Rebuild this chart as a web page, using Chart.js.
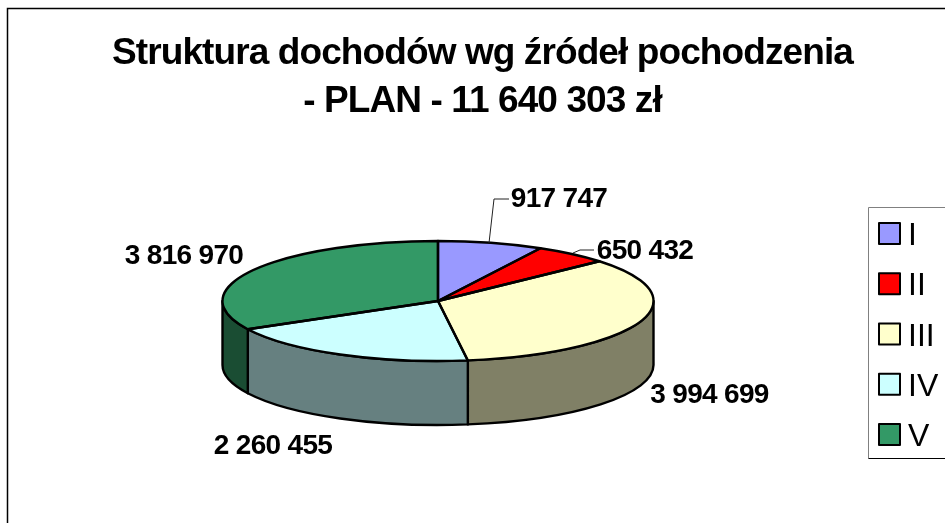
<!DOCTYPE html>
<html lang="pl">
<head>
<meta charset="utf-8">
<title>Struktura dochodów</title>
<script src="https://cdn.jsdelivr.net/npm/chart.js@4"></script>
<style>
    html, body { margin: 0; padding: 0; background: #fff; overflow: hidden; }
    canvas { display: block; }
</style>
</head>
<body>
<canvas id="pieChart" width="965" height="540"></canvas>
<script>
const categories = ["I", "II", "III", "IV", "V"];
const values = [917747, 650432, 3994699, 2260455, 3816970];
const valueLabels = ["917 747", "650 432", "3 994 699", "2 260 455", "3 816 970"];
const colors = ["#9999FF", "#FF0000", "#FFFFCC", "#CCFFFF", "#339966"];
const wallColors = ["#4D4D80", "#800000", "#808066", "#668080", "#1A4D33"];
const titleLines = ["Struktura dochodów wg źródeł pochodzenia", "- PLAN - 11 640 303 zł"];

// where the flattened pie and its labels sit on the page
const pie = { cx: 438, cy: 301, rx: 215.5, ry: 60, depth: 64 };
const labelSpots = [[559, 199], [645, 251], [709.5, 395], [273, 446], [184, 256]];
const leaders = [
    [[489, 243], [494, 199], [509, 199]],
    [[573, 253], [580, 250], [594, 250]]
];
const legendBox = { x: 868.5, y: 207.5, w: 120, h: 251, first: 222, step: 50.25 };

function arcs(chart) {
    return chart.getDatasetMeta(0).data.map(a =>
        a.getProps(["x", "y", "startAngle", "endAngle", "outerRadius"], true));
}

const pie3d = {
    id: "pie3d",
    beforeDraw(chart) {
        const ctx = chart.ctx;
        ctx.save();
        ctx.strokeStyle = "#000";
        ctx.lineWidth = 1.5;
        ctx.strokeRect(7.5, 8.5, 1100, 700);
        ctx.restore();
        // the title in the picture is set tight
        ctx.letterSpacing = "-0.9px";
    },
    beforeDatasetsDraw(chart) {
        const ctx = chart.ctx;
        const list = arcs(chart);
        ctx.letterSpacing = "0px";

        // side wall, only the front half of the rim shows
        ctx.save();
        ctx.strokeStyle = "#000";
        ctx.lineWidth = 2.4;
        ctx.lineJoin = "round";
        list.forEach((a, i) => {
            const from = Math.max(a.startAngle, 0);
            const to = Math.min(a.endAngle, Math.PI);
            if (to <= from) return;
            ctx.beginPath();
            ctx.ellipse(pie.cx, pie.cy, pie.rx, pie.ry, 0, from, to);
            ctx.ellipse(pie.cx, pie.cy + pie.depth, pie.rx, pie.ry, 0, to, from, true);
            ctx.closePath();
            ctx.fillStyle = wallColors[i];
            ctx.fill();
            ctx.stroke();
        });
        ctx.restore();

        // squash the round pie the library draws into the top ellipse
        const a = list[0];
        ctx.save();
        ctx.translate(pie.cx, pie.cy);
        ctx.scale(pie.rx / a.outerRadius, pie.ry / a.outerRadius);
        ctx.translate(-a.x, -a.y);
    },
    afterDatasetsDraw(chart) {
        const ctx = chart.ctx;
        ctx.restore();

        // slice outlines
        ctx.save();
        ctx.strokeStyle = "#000";
        ctx.lineWidth = 2.4;
        ctx.lineJoin = "round";
        arcs(chart).forEach(a => {
            ctx.beginPath();
            ctx.moveTo(pie.cx, pie.cy);
            ctx.ellipse(pie.cx, pie.cy, pie.rx, pie.ry, 0, a.startAngle, a.endAngle);
            ctx.closePath();
            ctx.stroke();
        });

        // leader lines
        ctx.lineWidth = 1;
        ctx.strokeStyle = "#222";
        leaders.forEach(line => {
            ctx.beginPath();
            line.forEach((p, i) => i ? ctx.lineTo(p[0], p[1]) : ctx.moveTo(p[0], p[1]));
            ctx.stroke();
        });

        // value labels
        ctx.fillStyle = "#000";
        ctx.font = "bold 28px 'Liberation Sans', Arial, sans-serif";
        ctx.letterSpacing = "-0.7px";
        ctx.textAlign = "center";
        ctx.textBaseline = "middle";
        valueLabels.forEach((t, i) => ctx.fillText(t, labelSpots[i][0], labelSpots[i][1]));
        ctx.letterSpacing = "0px";

        // legend
        const b = legendBox;
        ctx.fillStyle = "#fff";
        ctx.fillRect(b.x, b.y, b.w, b.h);
        ctx.lineWidth = 1;
        ctx.strokeStyle = "#808080";
        ctx.beginPath();
        ctx.moveTo(b.x, b.y + b.h);
        ctx.lineTo(b.x, b.y);
        ctx.lineTo(b.x + b.w, b.y);
        ctx.stroke();
        ctx.strokeStyle = "#000";
        ctx.beginPath();
        ctx.moveTo(b.x, b.y + b.h);
        ctx.lineTo(b.x + b.w, b.y + b.h);
        ctx.stroke();

        ctx.font = "32px 'Liberation Sans', Arial, sans-serif";
        ctx.textAlign = "left";
        ctx.textBaseline = "alphabetic";
        categories.forEach((c, i) => {
            const y = b.first + i * b.step;
            ctx.fillStyle = colors[i];
            ctx.fillRect(879, y + 1, 21, 21);
            ctx.strokeStyle = "#000";
            ctx.lineWidth = 2;
            ctx.strokeRect(879, y + 1, 21, 21);
            ctx.fillStyle = "#000";
            ctx.fillText(c, 908, y + 23);
        });
        ctx.restore();
    }
};

new Chart(document.getElementById("pieChart").getContext("2d"), {
    type: "pie",
    data: {
        labels: categories,
        datasets: [{
            data: values,
            backgroundColor: colors,
            borderWidth: 0,
            clip: false
        }]
    },
    options: {
        responsive: false,
        animation: false,
        layout: { padding: { top: 30 } },
        plugins: {
            legend: { display: false },
            tooltip: { enabled: false },
            title: {
                display: true,
                text: titleLines,
                color: "#000",
                font: { family: "'Liberation Sans', Arial, sans-serif", size: 37, weight: "bold", lineHeight: 1.3 },
                padding: 0
            }
        }
    },
    plugins: [pie3d]
});
</script>
</body>
</html>
